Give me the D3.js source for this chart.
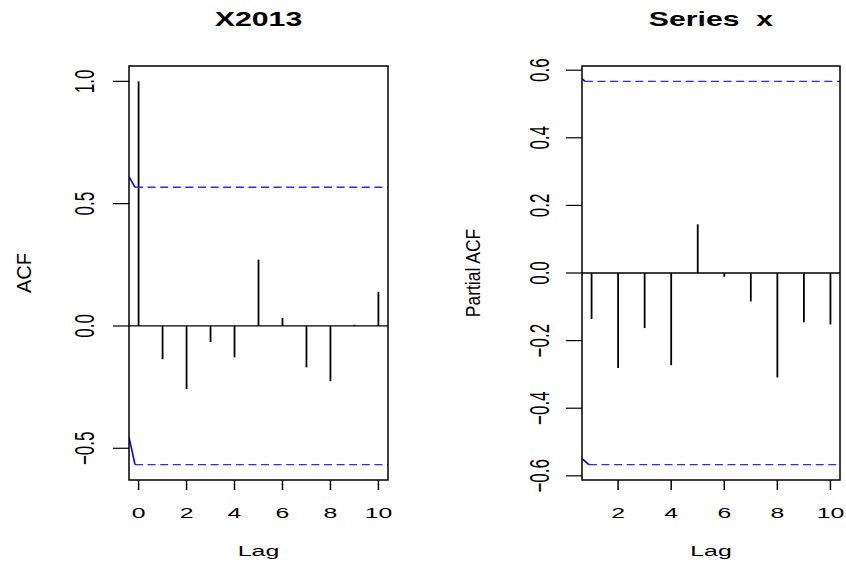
<!DOCTYPE html>
<html>
<head>
<meta charset="utf-8">
<script src="https://cdn.jsdelivr.net/npm/d3@7"></script>
<style>
  html, body { margin: 0; padding: 0; background: #fff; }
  svg { display: block; }
  text { font-family: "Liberation Sans", Arial, Helvetica, sans-serif; fill: #000; }
</style>
</head>
<body>
<svg id="chart" width="846" height="567"></svg>
<script>
// ---------- data ----------
const acfLags = [0, 1, 2, 3, 4, 5, 6, 7, 8, 9, 10];
const acfValues = [1.0, -0.136, -0.258, -0.066, -0.128, 0.271, 0.033, -0.169, -0.226, 0.005, 0.140];
const pacfLags = [1, 2, 3, 4, 5, 6, 7, 8, 9, 10];
const pacfValues = [-0.136, -0.281, -0.163, -0.273, 0.144, -0.011, -0.084, -0.309, -0.146, -0.152];
const ciBound = 0.567;

const acfXTicks = [0, 2, 4, 6, 8, 10];
const acfYTicks = [-0.5, 0.0, 0.5, 1.0];
const pacfXTicks = [2, 4, 6, 8, 10];
const pacfYTicks = [-0.6, -0.4, -0.2, 0.0, 0.2, 0.4, 0.6];

const acfXLim = [0, 10];
const acfYLim = [-0.567, 1.0];
const pacfXLim = [1, 10];
const pacfYLim = [-0.567, 0.567];

// short solid blue lead-in segments at the left edge of each panel
const acfCiLeadUpper = [[-0.4, 0.61], [-0.15, 0.567]];
const acfCiLeadLower = [[-0.4, -0.455], [-0.15, -0.567]];
const pacfCiLeadUpper = [[0.64, 0.575], [0.75, 0.567]];
const pacfCiLeadLower = [[0.64, -0.549], [0.90, -0.567]];

const titles = ["X2013", "Series  x"];
const yLabels = ["ACF", "Partial ACF"];
const xLabel = "Lag";

// ---------- drawing ----------
const svg = d3.select("#chart");
const SX = 1.6; // horizontal stretch of the text

function ext(lim) { const d = (lim[1] - lim[0]) * 0.04; return [lim[0] - d, lim[1] + d]; }

function panel(opt) {
  const { left, right, top, bottom } = opt.box;
  const x = d3.scaleLinear().domain(ext(opt.xlim)).range([left, right]);
  const y = d3.scaleLinear().domain(ext(opt.ylim)).range([bottom, top]);
  const g = svg.append("g");
  const clipId = "clip" + opt.id;
  svg.append("clipPath").attr("id", clipId).append("rect")
    .attr("x", left).attr("y", top).attr("width", right - left).attr("height", bottom - top);

  const pg = g.append("g").attr("clip-path", `url(#${clipId})`);

  // zero line
  pg.append("line").attr("x1", left).attr("x2", right).attr("y1", y(0)).attr("y2", y(0))
    .attr("stroke", "#000").attr("stroke-width", 1.3);

  // bars
  pg.selectAll("line.bar").data(opt.lags.map((l, i) => [l, opt.values[i]])).enter()
    .append("line").attr("class", "bar")
    .attr("x1", d => x(d[0])).attr("x2", d => x(d[0]))
    .attr("y1", y(0)).attr("y2", d => y(d[1]))
    .attr("stroke", "#000").attr("stroke-width", 1.8);

  // confidence lines
  const line = d3.line().x(d => x(d[0])).y(d => y(d[1]));
  [opt.leadUpper, opt.leadLower].forEach(seg => {
    pg.append("path").attr("d", line(seg)).attr("fill", "none")
      .attr("stroke", "#0000ff").attr("stroke-width", 1.6);
  });
  [[opt.leadUpper, ciBound], [opt.leadLower, -ciBound]].forEach(([seg, v]) => {
    const x0 = seg[seg.length - 1][0];
    pg.append("path").attr("d", line([[x0, v], [ext(opt.xlim)[1], v]])).attr("fill", "none")
      .attr("stroke", "#2a2aff").attr("stroke-width", 1.3).attr("stroke-dasharray", "8,4.6");
  });

  // box
  g.append("rect").attr("x", left).attr("y", top).attr("width", right - left).attr("height", bottom - top)
    .attr("fill", "none").attr("stroke", "#000").attr("stroke-width", 1.5);

  // x axis ticks
  g.selectAll("line.xt").data(opt.xticks).enter().append("line")
    .attr("x1", d => x(d)).attr("x2", d => x(d)).attr("y1", bottom).attr("y2", bottom + 10)
    .attr("stroke", "#000").attr("stroke-width", 1.5);
  g.selectAll("text.xt").data(opt.xticks).enter().append("text")
    .attr("text-anchor", "middle").attr("font-size", 15.5)
    .attr("transform", d => `translate(${x(d)},${517.5}) scale(${SX},1)`)
    .text(d => d3.format("d")(d));

  // y axis ticks
  g.selectAll("line.yt").data(opt.yticks).enter().append("line")
    .attr("x1", left - 16).attr("x2", left).attr("y1", d => y(d)).attr("y2", d => y(d))
    .attr("stroke", "#000").attr("stroke-width", 1.2);
  g.selectAll("text.yt").data(opt.yticks).enter().append("text")
    .attr("text-anchor", "middle").attr("font-size", 17).attr("dy", "0.36em")
    .attr("transform", d => `translate(${opt.yLabX},${y(d)}) scale(1.65,1) rotate(-90)`)
    .text(d => d3.format(".1f")(d));

  // titles
  g.append("text").attr("text-anchor", "middle").attr("font-size", 19.5).attr("font-weight", "bold")
    .style("white-space", "pre")
    .attr("transform", `translate(${(left + right) / 2},${26}) scale(1.55,1)`)
    .text(opt.title);
  g.append("text").attr("text-anchor", "middle").attr("font-size", 15.5)
    .attr("transform", `translate(${(left + right) / 2},${555.5}) scale(${SX},1)`)
    .text(xLabel);
  g.append("text").attr("text-anchor", "middle").attr("font-size", opt.ylabSize).attr("dy", "0.36em")
    .attr("transform", `translate(${opt.yTitleX},${(top + bottom) / 2}) scale(${opt.ylabSX},1) rotate(-90)`)
    .text(opt.ylab);
}

panel({
  id: "a", box: { left: 129, right: 388, top: 66, bottom: 480 },
  xlim: acfXLim, ylim: acfYLim, lags: acfLags, values: acfValues,
  xticks: acfXTicks, yticks: acfYTicks,
  leadUpper: acfCiLeadUpper, leadLower: acfCiLeadLower,
  title: titles[0], ylab: yLabels[0], yLabX: 84, yTitleX: 24, ylabSize: 20, ylabSX: 1.0
});
panel({
  id: "b", box: { left: 582, right: 840, top: 66, bottom: 480 },
  xlim: pacfXLim, ylim: pacfYLim, lags: pacfLags, values: pacfValues,
  xticks: pacfXTicks, yticks: pacfYTicks,
  leadUpper: pacfCiLeadUpper, leadLower: pacfCiLeadLower,
  title: titles[1], ylab: yLabels[1], yLabX: 538.5, yTitleX: 473, ylabSize: 17.5, ylabSX: 1.15
});
</script>
</body>
</html>
